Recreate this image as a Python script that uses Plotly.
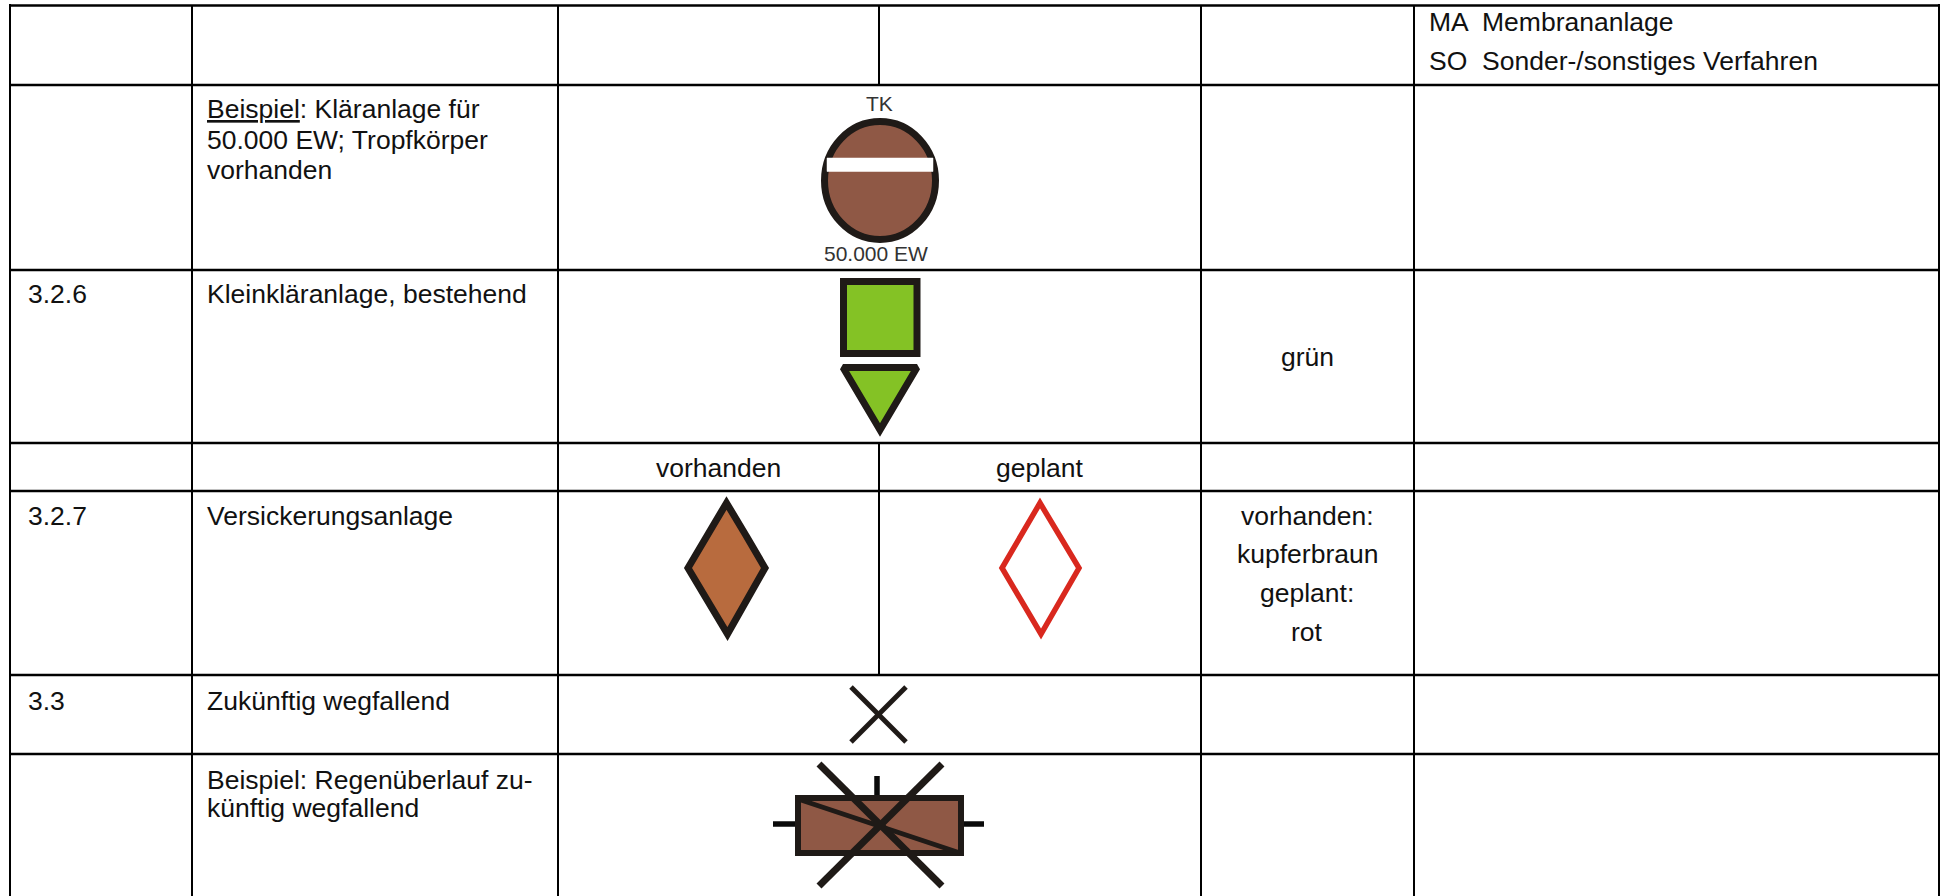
import plotly.graph_objects as go

# ---- table structure (positions in the picture's pixel space) ----
W, H = 1946, 896
row_y = [5.5, 85, 270, 443, 491, 675, 754]

# grid segments: (x0, y0, x1, y1)
grid_h = [(9, y, 1940, y) for y in row_y]
grid_v = [(10, 4, 10, 896), (192, 5, 192, 896), (558, 5, 558, 896), (1201, 5, 1201, 896),
          (1414, 5, 1414, 896), (1939, 4, 1939, 896),
          (879, 5, 879, 85), (879, 443, 879, 675)]

# ---- text ----
left_text = [
    ("MA  Membrananlage", 1427, 22),
    ("SO  Sonder-/sonstiges Verfahren", 1427, 61),
    ("<u>Beispiel</u>: Kläranlage für", 205, 108.5),
    ("50.000 EW; Tropfkörper", 205, 139.5),
    ("vorhanden", 205, 170),
    ("3.2.6", 26, 294),
    ("Kleinkläranlage, bestehend", 205, 294),
    ("3.2.7", 26, 516),
    ("Versickerungsanlage", 205, 516),
    ("3.3", 26, 700.5),
    ("Zukünftig wegfallend", 205, 700.5),
    ("Beispiel: Regenüberlauf zu-", 205, 779.5),
    ("künftig wegfallend", 205, 808),
]
center_text = [
    ("grün", 1307, 357),
    ("vorhanden", 718, 467.5),
    ("geplant", 1040, 467.5),
    ("vorhanden:", 1307, 516),
    ("kupferbraun", 1307, 553.5),
    ("geplant:", 1307, 592.5),
    ("rot", 1307, 632),
]
small_text = [("TK", 879, 103), ("50.000 EW", 876, 253)]

# ---- symbols ----
DARK = "#1F1A17"
GREEN = "#84C225"
BROWN_TK = "#8F5845"
BROWN_D = "#B86B3E"
RED = "#D9281E"

square_x = [880, 917, 917, 843.5, 843.5, 880]
square_y = [281.5, 281.5, 353.5, 353.5, 281.5, 281.5]
tri_x = [880, 917, 880, 843, 880]
tri_y = [367.5, 367.5, 430, 367.5, 367.5]
dia1_x = [746, 765, 727.5, 688, 726.5, 746]
dia1_y = [535.5, 568, 634, 568, 503, 535.5]
dia2_x = [1059.5, 1079, 1041, 1002, 1040, 1059.5]
dia2_y = [535.5, 568, 634, 568, 503, 535.5]
band_x = [827, 933, 933, 827, 827]
band_y = [158, 158, 171.5, 171.5, 158]
x_a = ([851, 906], [687, 742])
x_b = ([906, 851], [687, 742])
rect_x = [880, 961, 961, 798, 798, 880]
rect_y = [798, 798, 853, 853, 798, 798]
stubs = [([773, 795], [824, 824]), ([963, 984], [824, 824]), ([877, 877], [776, 795])]
rect_diag = ([798, 960], [799, 853])
big_a = ([819, 942], [764, 886])
big_b = ([942, 819], [764, 886])

fig = go.Figure()

def seg(x, y, color, width):
    fig.add_trace(go.Scatter(x=x, y=y, mode="lines", line=dict(color=color, width=width),
                             hoverinfo="skip"))

def poly(x, y, fill, color, width):
    fig.add_trace(go.Scatter(x=x, y=y, mode="lines", fill="toself", fillcolor=fill,
                             line=dict(color=color, width=width), hoverinfo="skip"))

for x0, y0, x1, y1 in grid_h:
    seg([x0, x1], [y0, y1], "#000000", 2.5)
for x0, y0, x1, y1 in grid_v:
    seg([x0, x1], [y0, y1], "#000000", 2)

poly(band_x, band_y, "#FFFFFF", "#FFFFFF", 0.5)
poly(square_x, square_y, GREEN, DARK, 7)
poly(tri_x, tri_y, GREEN, DARK, 7)
poly(dia1_x, dia1_y, BROWN_D, DARK, 7)
poly(dia2_x, dia2_y, "#FFFFFF", RED, 5.5)
seg(*x_a, DARK, 5)
seg(*x_b, DARK, 5)
for sx, sy in stubs:
    seg(sx, sy, "#0A0A0A", 5.5)
poly(rect_x, rect_y, BROWN_TK, DARK, 6)
seg(*rect_diag, DARK, 5)
seg(*big_a, DARK, 7)
seg(*big_b, DARK, 7)

fig.add_shape(type="circle", x0=824.5, y0=121.5, x1=935.5, y1=239.5, fillcolor=BROWN_TK,
              line=dict(color=DARK, width=7), layer="below")

FONT = "Liberation Sans, Arial, sans-serif"
SIZE = 26.5
for t, x, y in left_text:
    fig.add_annotation(x=x, y=y, text=t, showarrow=False, xanchor="left", yanchor="middle",
                       font=dict(family=FONT, size=SIZE, color="#111111"))
for t, x, y in center_text:
    fig.add_annotation(x=x, y=y, text=t, showarrow=False, xanchor="center", yanchor="middle",
                       font=dict(family=FONT, size=SIZE, color="#111111"))
for t, x, y in small_text:
    fig.add_annotation(x=x, y=y, text=t, showarrow=False, xanchor="center", yanchor="middle",
                       font=dict(family=FONT, size=21, color="#333333"))

fig.update_layout(
    width=W, height=H, margin=dict(l=0, r=0, t=0, b=0), showlegend=False,
    paper_bgcolor="#FFFFFF", plot_bgcolor="#FFFFFF", hovermode=False,
    xaxis=dict(range=[0, W], visible=False, fixedrange=True),
    yaxis=dict(range=[H, 0], visible=False, fixedrange=True),
)
fig.write_html("out.html", config={"displayModeBar": False},
               post_script="document.body.style.margin='0';document.body.style.overflow='hidden';")
